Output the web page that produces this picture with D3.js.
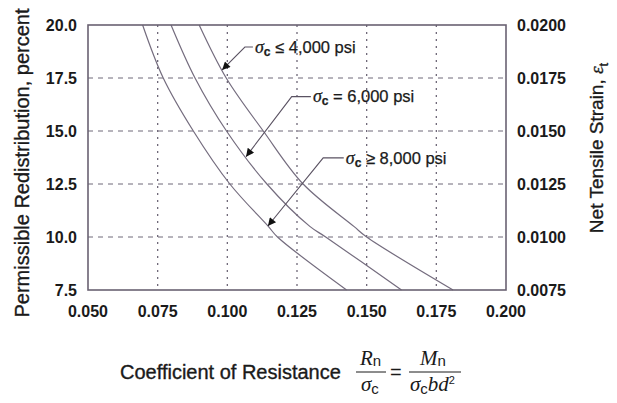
<!DOCTYPE html>
<meta charset="utf-8">
<style>
body { margin: 0; background: #fff; }
svg { display: block; font-family: Arial, "Liberation Sans", Helvetica, sans-serif; }
.tick-label { font-size: 16px; font-weight: bold; fill: #1a1a1a; }
.title { font-size: 20px; fill: #1a1a1a; stroke: #1a1a1a; stroke-width: 0.35px; }
.grid-h { stroke: #6f6878; stroke-width: 1; stroke-dasharray: 5,5; }
.grid-v { stroke: #6f6878; stroke-width: 1.3; stroke-dasharray: 2,5; }
.frame { fill: none; stroke: #6a6272; stroke-width: 1.6; }
.curve { fill: none; stroke: #746c7e; stroke-width: 1.2; }
.leader { fill: none; stroke: #5a5262; stroke-width: 1.1; }
.note { font-size: 16.5px; fill: #1a1a1a; stroke: #1a1a1a; stroke-width: 0.25px; }
.serif { font-family: "Liberation Serif", "Times New Roman", serif; font-style: italic; }
</style>
<body>
<svg width="617" height="403"></svg>
<script src="https://d3js.org/d3.v7.min.js"></script>
<script>
// axis ticks
var coefTicks = [0.050, 0.075, 0.100, 0.125, 0.150, 0.175, 0.200];
var redistTicks = [7.5, 10.0, 12.5, 15.0, 17.5, 20.0];
var strainTicks = [0.0075, 0.0100, 0.0125, 0.0150, 0.0175, 0.0200];

// curves: coefficient of resistance read at each redistribution level
var levels = [20.0, 17.5, 15.0, 12.5, 10.5, 10.0, 7.5];
var coef8000 = [0.0696, 0.0770, 0.0878, 0.1009, 0.1147, 0.1180, 0.1428];
var coef6000 = [0.0798, 0.0884, 0.0997, 0.1142, 0.1296, 0.1353, 0.1625];
var coef4000 = [0.0899, 0.0996, 0.1129, 0.1272, 0.1454, 0.1500, 0.1810];

// annotations (data units)
var noteRel = ["\u2264", "=", "\u2265"];
var notePsi = ["4,000", "6,000", "8,000"];
var noteTextX = [0.1099, 0.1307, 0.1425];
var noteTextY = [18.96, 16.62, 13.73];
var noteElbowX = [0.1063, 0.1231, 0.1344];
var noteArrowLevel = [17.88, 13.79, 10.52];

var svg = d3.select("svg");
var plotL = 88, plotR = 506, plotT = 25, plotB = 290;

var x = d3.scaleLinear().domain([0.05, 0.2]).range([plotL, plotR]);
var y = d3.scaleLinear().domain([7.5, 20]).range([plotB, plotT]);
var y2 = d3.scaleLinear().domain([0.0075, 0.02]).range([plotB, plotT]);

var defs = svg.append("defs");
defs.append("marker")
    .attr("id", "arrow")
    .attr("viewBox", "0 0 10 10")
    .attr("refX", 10).attr("refY", 5)
    .attr("markerWidth", 12).attr("markerHeight", 8)
    .attr("markerUnits", "userSpaceOnUse")
    .attr("orient", "auto")
  .append("path")
    .attr("d", "M0,0L10,5L0,10z")
    .attr("fill", "#111");

// grid
svg.append("g").selectAll("line")
  .data(redistTicks.slice(1, -1))
  .enter().append("line")
    .attr("class", "grid-h")
    .attr("x1", plotL).attr("x2", plotR)
    .attr("y1", function(d) { return y(d); })
    .attr("y2", function(d) { return y(d); });

svg.append("g").selectAll("line")
  .data(coefTicks.slice(1, -1))
  .enter().append("line")
    .attr("class", "grid-v")
    .attr("y1", plotT).attr("y2", plotB)
    .attr("x1", function(d) { return x(d); })
    .attr("x2", function(d) { return x(d); });

// curves
var line = d3.line()
    .x(function(d) { return x(d[0]); })
    .y(function(d) { return y(d[1]); })
    .curve(d3.curveCatmullRom.alpha(0.5));

var series = [coef4000, coef6000, coef8000];
svg.append("g").selectAll("path")
  .data(series)
  .enter().append("path")
    .attr("class", "curve")
    .attr("d", function(s) { return line(s.map(function(v, i) { return [v, levels[i]]; })); });

// frame
svg.append("rect")
    .attr("class", "frame")
    .attr("x", plotL).attr("y", plotT)
    .attr("width", plotR - plotL).attr("height", plotB - plotT);

// tick labels
svg.append("g").selectAll("text")
  .data(redistTicks)
  .enter().append("text")
    .attr("class", "tick-label")
    .attr("x", plotL - 11)
    .attr("y", function(d) { return y(d); })
    .attr("dy", "0.35em")
    .attr("text-anchor", "end")
    .text(d3.format(".1f"));

svg.append("g").selectAll("text")
  .data(strainTicks)
  .enter().append("text")
    .attr("class", "tick-label")
    .attr("x", plotR + 11)
    .attr("y", function(d) { return y2(d); })
    .attr("dy", "0.35em")
    .text(d3.format(".4f"));

svg.append("g").selectAll("text")
  .data(coefTicks)
  .enter().append("text")
    .attr("class", "tick-label")
    .attr("x", function(d) { return x(d); })
    .attr("y", 317)
    .attr("text-anchor", "middle")
    .text(d3.format(".3f"));

// axis titles
svg.append("text")
    .attr("class", "title")
    .attr("transform", "translate(29,163) rotate(-90)")
    .attr("text-anchor", "middle")
    .text("Permissible Redistribution, percent");

var rt = svg.append("text")
    .attr("class", "title")
    .attr("transform", "translate(603,148) rotate(-90)")
    .attr("text-anchor", "middle")
    .style("font-size", "19px");
rt.append("tspan").text("Net Tensile Strain, ");
rt.append("tspan").attr("class", "serif").text("\u03b5");
rt.append("tspan").attr("dy", 5).style("font-size", "13px").text("t");

var bt = svg.append("g");
bt.append("text")
    .attr("class", "title")
    .attr("x", 120).attr("y", 379)
    .text("Coefficient of Resistance");

// fraction Rn / σc
bt.append("line").attr("x1", 356).attr("x2", 386).attr("y1", 372).attr("y2", 372)
    .attr("stroke", "#1a1a1a").attr("stroke-width", 1);
var n1 = bt.append("text").attr("x", 360).attr("y", 365).style("fill", "#1a1a1a");
n1.append("tspan").attr("class", "serif").style("font-size", "21px").text("R");
n1.append("tspan").attr("dy", 1).style("font-size", "15px").text("n");
var d1 = bt.append("text").attr("x", 361).attr("y", 391).style("fill", "#1a1a1a");
d1.append("tspan").attr("class", "serif").style("font-size", "21px").text("\u03c3");
d1.append("tspan").attr("dy", 3).style("font-size", "15px").text("c");

bt.append("text").attr("x", 390).attr("y", 379).style("font-size", "20px").style("fill", "#1a1a1a").text("=");

// fraction Mn / σc b d²
bt.append("line").attr("x1", 409).attr("x2", 461).attr("y1", 372).attr("y2", 372)
    .attr("stroke", "#1a1a1a").attr("stroke-width", 1);
var n2 = bt.append("text").attr("x", 420).attr("y", 365).style("fill", "#1a1a1a");
n2.append("tspan").attr("class", "serif").style("font-size", "21px").text("M");
n2.append("tspan").attr("dy", 1).style("font-size", "15px").text("n");
var d2 = bt.append("text").attr("x", 410).attr("y", 391).style("fill", "#1a1a1a");
d2.append("tspan").attr("class", "serif").style("font-size", "21px").text("\u03c3");
d2.append("tspan").attr("dy", 3).style("font-size", "15px").text("c");
d2.append("tspan").attr("dy", -3).attr("class", "serif").style("font-size", "21px").text("bd");
d2.append("tspan").attr("dy", -7).style("font-size", "11px").text("2");

// annotations
function coefAt(s, lvl) {
  var ys = levels.slice().reverse(), xs = s.slice().reverse();
  return d3.scaleLinear().domain(ys).range(xs)(lvl);
}

series.forEach(function(s, i) {
  var ty = y(noteTextY[i]);
  var tipX = x(coefAt(s, noteArrowLevel[i])), tipY = y(noteArrowLevel[i]);
  svg.append("path")
      .attr("class", "leader")
      .attr("marker-end", "url(#arrow)")
      .attr("d", "M" + (x(noteTextX[i]) - 2) + "," + ty + "H" + x(noteElbowX[i]) + "L" + tipX + "," + tipY);
  var t = svg.append("text")
      .attr("class", "note")
      .attr("x", x(noteTextX[i]))
      .attr("y", ty)
      .attr("dy", "0.35em");
  t.append("tspan").attr("class", "serif").style("font-size", "18px").text("\u03c3");
  t.append("tspan").attr("dy", 3).style("font-size", "12px").style("font-weight", "bold").text("c");
  t.append("tspan").attr("dy", -3).text(" " + noteRel[i] + " " + notePsi[i] + " psi");
});
</script>
</body>
